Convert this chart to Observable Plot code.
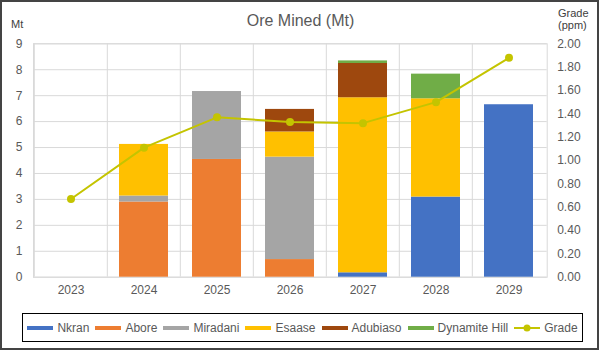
<!DOCTYPE html>
<html><head><meta charset="utf-8">
<script src="https://cdn.jsdelivr.net/npm/d3@7"></script>
<script src="https://cdn.jsdelivr.net/npm/@observablehq/plot@0.6"></script>
<style>
body{margin:0;background:#fff;font-family:"Liberation Sans",Arial,sans-serif;}
#wrap{position:relative;width:601px;height:351px;overflow:hidden;}
#frame{position:absolute;left:0;top:0;width:599px;height:350px;box-sizing:border-box;border:2px solid #444;pointer-events:none;}
#chart{position:absolute;left:0;top:0;}
#title{position:absolute;left:0;top:12px;width:601px;text-align:center;font-size:16px;line-height:18px;color:#595959;}
#mt{position:absolute;left:11px;top:18px;font-size:11px;line-height:12px;color:#404040;}
#gr{position:absolute;left:558px;top:7px;font-size:11px;line-height:12px;color:#404040;}
#legend{position:absolute;left:22px;top:313px;width:561px;height:29px;box-sizing:border-box;border:1px solid #000;display:flex;align-items:center;justify-content:center;font-size:12px;color:#595959;gap:6px;}
.item{display:flex;align-items:center;gap:4px;white-space:nowrap;}
.sw{display:inline-block;width:26px;height:4px;}
</style></head>
<body>
<div id="wrap">
  <div id="chart"></div>
  <div id="title">Ore Mined (Mt)</div>
  <div id="mt">Mt</div>
  <div id="gr">Grade<br>(ppm)</div>
  <div id="legend"></div>
  <div id="frame"></div>
</div>
<script>
const years = [2023, 2024, 2025, 2026, 2027, 2028, 2029];
const sources = ["Nkran", "Abore", "Miradani", "Esaase", "Adubiaso", "Dynamite Hill"];
const colors = ["#4472C4", "#ED7D31", "#A5A5A5", "#FFC000", "#9E480E", "#70AD47"];
const nkran    = [0, 0,    0,    0,    0.17, 3.09, 6.65];
const abore    = [0, 2.90, 4.54, 0.68, 0,    0,    0];
const miradani = [0, 0.23, 2.62, 3.95, 0,    0,    0];
const esaase   = [0, 1.99, 0,    0.97, 6.75, 3.79, 0];
const adubiaso = [0, 0,    0,    0.87, 1.32, 0,    0];
const dynamite = [0, 0,    0,    0,    0.10, 0.95, 0];
const grade    = [0.67, 1.11, 1.37, 1.33, 1.32, 1.50, 1.88];
const mtTicks = [0, 1, 2, 3, 4, 5, 6, 7, 8, 9];
const gradeTicks = [0, 0.2, 0.4, 0.6, 0.8, 1.0, 1.2, 1.4, 1.6, 1.8, 2.0];
const gradeColor = "#C4C400";

const series = [nkran, abore, miradani, esaase, adubiaso, dynamite];
const table = sources.flatMap((s, i) => years.map((y, j) => ({year: y, source: s, value: series[i][j]}))).filter(d => d.value > 0);
const gradeData = years.map((y, j) => ({year: y, grade: grade[j]}));
const k = 9 / 2; // right axis (0–2) mapped onto left axis (0–9)

const W = 601, H = 305, mL = 33, mR = 54.3;
const step = (W - mL - mR) / years.length;

const chart = Plot.plot({
  width: W, height: H,
  marginTop: 43.3, marginBottom: 28.3, marginLeft: mL, marginRight: mR,
  style: {fontFamily: '"Liberation Sans", Arial, sans-serif', fontSize: "12px", color: "#595959", background: "transparent"},
  x: {type: "band", domain: years, paddingInner: 0.33, paddingOuter: 0.165, label: null},
  y: {domain: [0, 9], label: null},
  color: {domain: sources, range: colors},
  marks: [
    Plot.gridY({ticks: mtTicks, stroke: "#d9d9d9", strokeOpacity: 1}),
    Plot.gridX({stroke: "#d9d9d9", strokeOpacity: 1, dx: -step / 2}),
    Plot.frame({stroke: "#d9d9d9"}),
    Plot.barY(table, {x: "year", y: "value", fill: "source"}),
    Plot.line(gradeData, {x: "year", y: d => d.grade * k, stroke: gradeColor, strokeWidth: 2}),
    Plot.dot(gradeData, {x: "year", y: d => d.grade * k, r: 4, fill: gradeColor}),
    Plot.axisY({ticks: mtTicks, tickSize: 0, tickPadding: 11, label: null}),
    Plot.axisY({anchor: "right", ticks: gradeTicks.map(g => g * k), tickFormat: d => (d / k).toFixed(2), tickSize: 0, tickPadding: 10, label: null}),
    Plot.axisX({tickSize: 0, tickPadding: 8, label: null, tickFormat: d => String(d)})
  ]
});
document.getElementById("chart").appendChild(chart);

const legend = document.getElementById("legend");
sources.forEach((s, i) => {
  const it = document.createElement("span");
  it.className = "item";
  it.innerHTML = `<span class="sw" style="background:${colors[i]}"></span><span>${s}</span>`;
  legend.appendChild(it);
});
const g = document.createElement("span");
g.className = "item";
g.innerHTML = `<svg width="26" height="10"><line x1="0" y1="5" x2="26" y2="5" stroke="${gradeColor}" stroke-width="2"/><circle cx="13" cy="5" r="3.5" fill="${gradeColor}"/></svg><span>Grade</span>`;
legend.appendChild(g);
</script>
</body></html>
